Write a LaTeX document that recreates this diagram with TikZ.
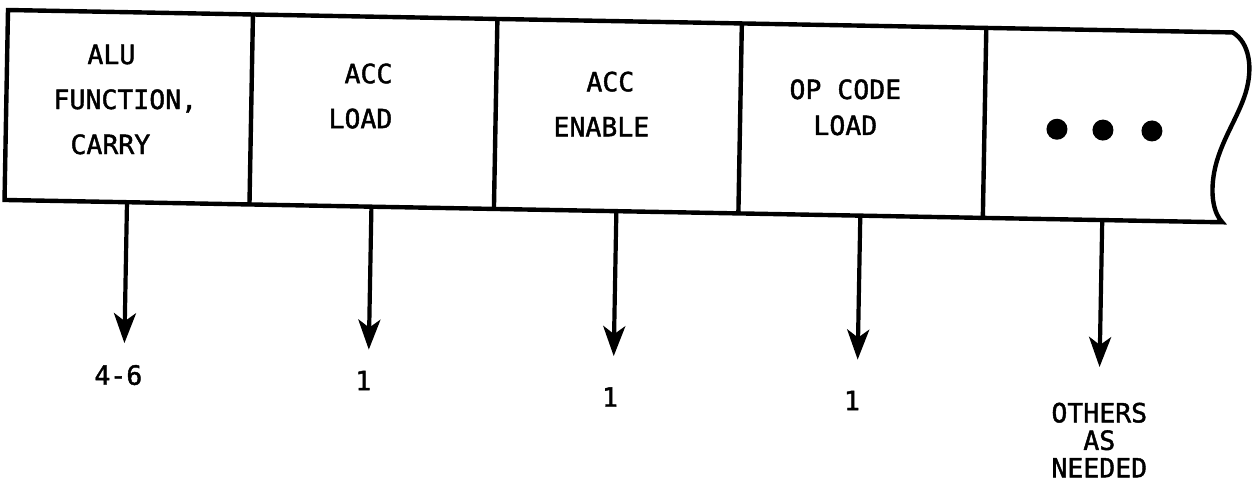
\documentclass[tikz,border=0pt]{standalone}
\usepackage{fontspec}
\setmonofont{DejaVu Sans Mono}[FakeBold=1.6]
\usetikzlibrary{arrows.meta}
\begin{document}
\begin{tikzpicture}[x=1pt,y=-1pt,
  outline/.style={line width=4.4pt},
  arr/.style={line width=4.2pt,-{Stealth[length=30pt,width=22pt,inset=8pt]}},
  lbl/.style={font=\ttfamily\fontsize{26.5}{45}\selectfont, inner sep=0pt, align=center},
  num/.style={font=\ttfamily\fontsize{26.5}{27.5}\selectfont, inner sep=0pt, align=center},
  dotmark/.style={fill=black}]
\useasboundingbox (0,0) rectangle (1252,491);
\begin{scope}[rotate around={-1.05:(8,10)}]
  % outline of the register strip
  \draw[outline] (8,10) -- (1233,10)
     .. controls (1250,20) and (1254,45) .. (1247,70)
     .. controls (1240,95) and (1222,120) .. (1217,150)
     .. controls (1213,175) and (1218,192) .. (1226,200)
     -- (8,200) -- cycle;
  \draw[outline] (253,10) -- (253,200);
  \draw[outline] (497.5,10) -- (497.5,200);
  \draw[outline] (742,10) -- (742,200);
  \draw[outline] (986.5,10) -- (986.5,200);
  % field texts
  \node[lbl] (alu) at (120,97.5) {ALU\rule{14pt}{0pt}\\\rule{14pt}{0pt}FUNCTION,\\CARRY\rule{16pt}{0pt}};
  \node[lbl] (accload) at (366,89.5) {\rule{8pt}{0pt}ACC\\LOAD\rule{8pt}{0pt}};
  \node[lbl] (accen) at (607.5,93) {\rule{9pt}{0pt}ACC\\ENABLE\rule{9pt}{0pt}};
  \node[lbl] (opload) at (847,92) {OP CODE\\[-9pt]LOAD};
  \fill[dotmark] (1059,110) circle (10.5);
  \fill[dotmark] (1105,110) circle (10.5);
  \fill[dotmark] (1154,110) circle (10.5);
  % arrows
  \coordinate (b1) at (130.5,200); \coordinate (t1) at (130.5,341);
  \coordinate (b2) at (375,200);   \coordinate (t2) at (375,343);
  \coordinate (b3) at (620,200);   \coordinate (t3) at (620,345);
  \coordinate (b4) at (864,200);   \coordinate (t4) at (864,344);
  \coordinate (b5) at (1106,200);  \coordinate (t5) at (1106,347);
  \draw[arr] (b1) -- (t1);
  \draw[arr] (b2) -- (t2);
  \draw[arr] (b3) -- (t3);
  \draw[arr] (b4) -- (t4);
  \draw[arr] (b5) -- (t5);
  % widths
  \node[num] (n1) at (125,373) {4-6};
  \node[num] (n2) at (370,374) {1};
  \node[num] (n3) at (617,386) {1};
  \node[num] (n4) at (859,385) {1};
  \node[num] (n5) at (1107,420) {OTHERS\\AS\\NEEDED};
\end{scope}
\end{tikzpicture}
\end{document}
